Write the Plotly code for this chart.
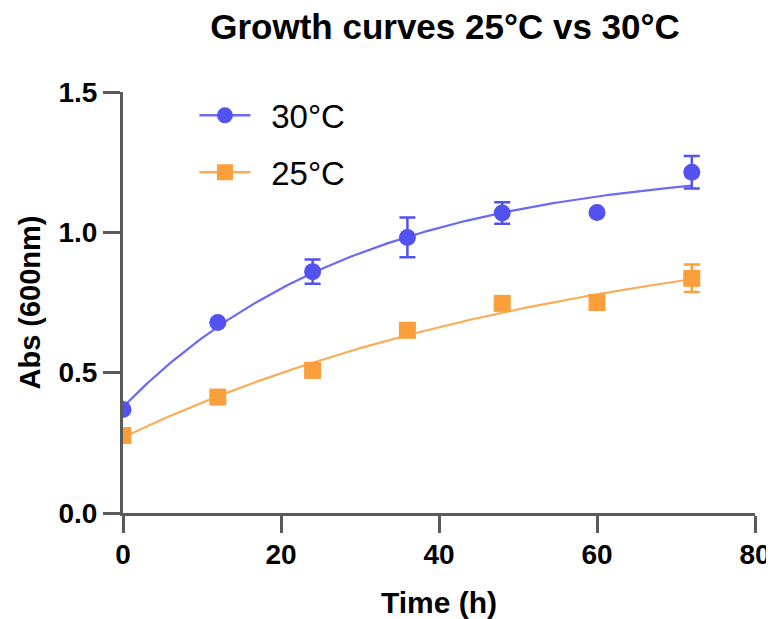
import numpy as np
import plotly.graph_objects as go

time_h = [0, 12, 24, 36, 48, 60, 72]
abs_30 = [0.369, 0.679, 0.860, 0.982, 1.069, 1.071, 1.214]
err_30 = [0.0, 0.0, 0.043, 0.071, 0.038, 0.0, 0.058]
abs_25 = [0.276, 0.413, 0.508, 0.651, 0.747, 0.750, 0.836]
err_25 = [0.0, 0.0, 0.0, 0.0, 0.0, 0.0, 0.049]

x_ticks = [0, 20, 40, 60, 80]
y_ticks = [0.0, 0.5, 1.0, 1.5]

BLUE = "#5252f0"
BLUE_LINE = "#6a6af2"
ORANGE = "#fa9f3c"
ORANGE_LINE = "#fbac55"
AXIS = "#5a5a5a"
FONT = "Arial, Liberation Sans, sans-serif"
PAD = "\u00a0\u2009"


def fit_one_phase(t, y):
    """Least-squares fit of y = a + b*exp(-k t) (one-phase association)."""
    t = np.asarray(t, float)
    y = np.asarray(y, float)
    best = None
    for k in np.linspace(0.001, 0.2, 4000):
        A = np.column_stack([np.ones_like(t), np.exp(-k * t)])
        coef, *_ = np.linalg.lstsq(A, y, rcond=None)
        r = np.sum((A @ coef - y) ** 2)
        if best is None or r < best[0]:
            best = (r, k, coef)
    _, k, (a, b) = best
    return lambda tt: a + b * np.exp(-k * tt)


t_fit = np.linspace(min(time_h), max(time_h), 200)
f30 = fit_one_phase(time_h, abs_30)
f25 = fit_one_phase(time_h, abs_25)

fig = go.Figure()

fig.add_trace(go.Scatter(x=t_fit, y=f30(t_fit), mode="lines",
                         line=dict(color=BLUE_LINE, width=2.2),
                         showlegend=False, hoverinfo="skip"))
fig.add_trace(go.Scatter(x=t_fit, y=f25(t_fit), mode="lines",
                         line=dict(color=ORANGE_LINE, width=2.2),
                         showlegend=False, hoverinfo="skip"))

fig.add_trace(go.Scatter(x=time_h, y=abs_30, mode="markers",
                         marker=dict(symbol="circle", size=17, color=BLUE),
                         error_y=dict(type="data", array=err_30, color=BLUE,
                                      thickness=2.5, width=8),
                         showlegend=False))
fig.add_trace(go.Scatter(x=time_h, y=abs_25, mode="markers",
                         marker=dict(symbol="square", size=17, color=ORANGE),
                         error_y=dict(type="data", array=err_25, color=ORANGE,
                                      thickness=2.5, width=8),
                         showlegend=False))

# legend entries
fig.add_trace(go.Scatter(x=[None], y=[None], mode="lines+markers", name=PAD + "30°C",
                         legendgroup="a",
                         line=dict(color=BLUE_LINE, width=2.5),
                         marker=dict(symbol="circle", size=16, color=BLUE)))
fig.add_trace(go.Scatter(x=[None], y=[None], mode="lines+markers", name=PAD + "25°C",
                         legendgroup="b",
                         line=dict(color=ORANGE_LINE, width=2.5),
                         marker=dict(symbol="square", size=16, color=ORANGE)))

fig.update_layout(
    width=766, height=611,
    margin=dict(l=115, r=19, t=84, b=106),
    paper_bgcolor="white", plot_bgcolor="white",
    font=dict(family=FONT, color="black"),
    title=dict(text="<b>Growth curves 25°C vs 30°C</b>",
               font=dict(size=35, family=FONT, color="black"),
               x=437 / 766, xanchor="center", y=1 - 19 / 611, yanchor="middle"),
    showlegend=True,
    legend=dict(x=0.113, y=1.011, xanchor="left", yanchor="top",
                font=dict(size=33, family=FONT, color="black"),
                bgcolor="rgba(0,0,0,0)", itemwidth=51,
                traceorder="grouped", tracegroupgap=11),
)

fig.update_xaxes(range=[0, 80], tickvals=x_ticks, ticktext=[str(v) for v in x_ticks],
                 showline=True, linecolor=AXIS, linewidth=3,
                 ticks="outside", ticklen=17, tickwidth=3, tickcolor=AXIS,
                 showgrid=False, zeroline=False, ticklabelstandoff=-3,
                 automargin=False,
                 tickfont=dict(size=28, family=FONT, color="black", weight="bold"),
                 title=dict(text="<b>Time (h)</b>", font=dict(size=30, family=FONT),
                            standoff=25))
fig.update_yaxes(range=[0, 1.5], tickvals=y_ticks, ticktext=[f"{v:.1f}" for v in y_ticks],
                 showline=True, linecolor=AXIS, linewidth=3,
                 ticks="outside", ticklen=17, tickwidth=3, tickcolor=AXIS,
                 showgrid=False, zeroline=False, automargin=False,
                 tickfont=dict(size=28, family=FONT, color="black", weight="bold"),
                 title=dict(text="<b>Abs (600nm)</b>", font=dict(size=29, family=FONT),
                            standoff=10))

fig.write_html("out.html")
